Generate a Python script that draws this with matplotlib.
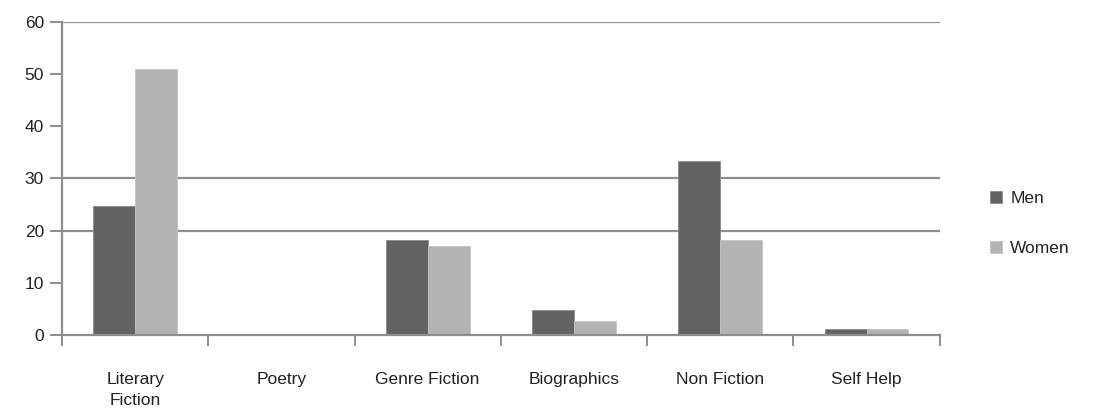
import numpy as np
import matplotlib
matplotlib.use("Agg")
import matplotlib.pyplot as plt

# data
categories = ["Literary\nFiction", "Poetry", "Genre Fiction", "Biographics", "Non Fiction", "Self Help"]
men = [24.8, 0, 18.2, 4.8, 33.4, 1.2]
women = [50.9, 0, 17.1, 2.7, 18.2, 1.1]
y_ticks = [0, 10, 20, 30, 40, 50, 60]
grid_levels = [20, 30, 60]  # only these gridlines show in the reference

plt.rcParams['font.family'] = ['Liberation Sans', 'DejaVu Sans']

fig = plt.figure(figsize=(10.99, 4.19), dpi=100)
ax = fig.add_axes([0.0564, 0.2005, 0.7986, 0.7470])

x = np.arange(len(categories))
w = 0.286
ax.bar(x - w / 2, men, width=w, color="#636363", edgecolor="#8a8a8a", linewidth=0.6, label="Men", zorder=3)
ax.bar(x + w / 2, women, width=w, color="#b3b3b3", edgecolor="#c4c4c4", linewidth=0.6, label="Women", zorder=3)

for g in grid_levels:
    ax.axhline(g, color="#8e8e8e", linewidth=1.6, zorder=1)

ax.set_xlim(-0.5, len(categories) - 0.5)
ax.set_ylim(0, 60)
ax.set_yticks(y_ticks)
ax.tick_params(axis="y", length=9, width=1.4, color="#8e8e8e", labelsize=12.5,
               labelcolor="#222222", pad=4)

# tick marks between categories, labels at category centres
ax.set_xticks(np.arange(len(categories) + 1) - 0.5)
ax.set_xticklabels([])
ax.set_xticks(x, minor=True)
ax.set_xticklabels(categories, minor=True)
ax.tick_params(axis="x", which="major", length=8, width=1.4, color="#8e8e8e")
ax.tick_params(axis="x", which="minor", length=0, labelsize=12.5, labelcolor="#222222", pad=27)
for lbl in ax.get_xticklabels(minor=True):
    lbl.set_verticalalignment("top")
    lbl.set_linespacing(1.45)

for side in ["top", "right"]:
    ax.spines[side].set_visible(False)
for side in ["left", "bottom"]:
    ax.spines[side].set_color("#8e8e8e")
    ax.spines[side].set_linewidth(1.6)
ax.spines["bottom"].set_zorder(4)

ax.legend(loc="center left", bbox_to_anchor=(1.04, 0.356), frameon=False,
          fontsize=12.5, handlelength=0.65, handleheight=0.65, labelspacing=2.0,
          handletextpad=0.5, labelcolor="#222222")

fig.savefig("out.png", dpi=100)
